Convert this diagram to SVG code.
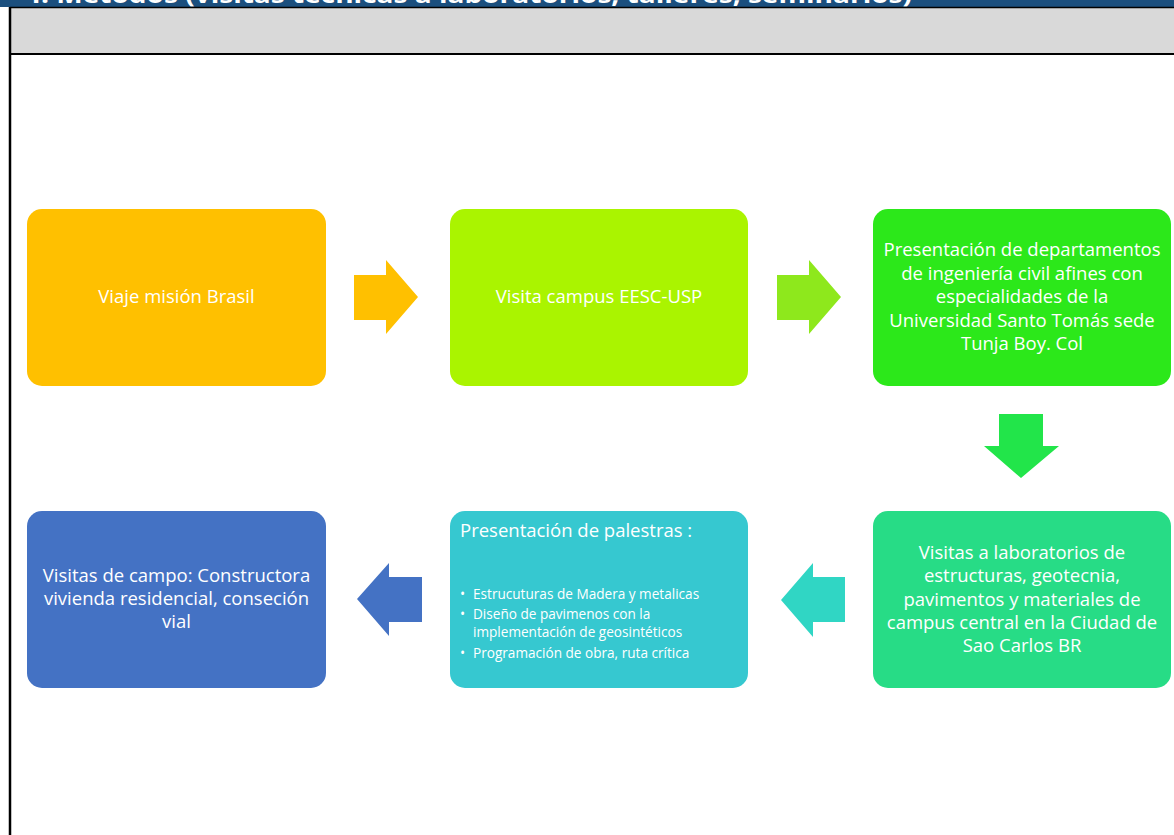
<svg xmlns="http://www.w3.org/2000/svg" width="1174" height="835" viewBox="0 0 1174 835">
<style>
.t{font-family:"Open Sans","Noto Sans",sans-serif;fill:#fff;font-size:18.5px}
.tc{text-anchor:middle}
.b{font-size:13.6px}
</style>
<defs><clipPath id="band"><rect x="0" y="0" width="1174" height="7"/></clipPath></defs>
<rect x="0" y="0" width="1174" height="835" fill="#fff"/>
<g id="header">
<rect x="0" y="0" width="1174" height="7" fill="#1B4F7E"/>
<text x="25" y="3" clip-path="url(#band)" font-family="'Open Sans',sans-serif" font-weight="bold" font-size="24" fill="#fff" textLength="887" lengthAdjust="spacingAndGlyphs">4. Métodos (visitas técnicas a laboratorios, talleres, seminarios)</text>
<rect x="10" y="8" width="1164" height="46" fill="#D9D9D9"/>
<line x1="10" y1="7.5" x2="1174" y2="7.5" stroke="#000" stroke-width="1.5"/>
<line x1="10" y1="54" x2="1174" y2="54" stroke="#000" stroke-width="2"/>
<line x1="10" y1="7" x2="10" y2="835" stroke="#000" stroke-width="2.5"/>
</g>
<g id="n1"><rect x="27" y="209" width="299" height="177" rx="15" fill="#FFC000"/>
<text class="t tc" x="176.5" y="303">Viaje misión Brasil</text></g>
<g id="n2"><rect x="450" y="209" width="298" height="177" rx="15" fill="#AAF400"/>
<text class="t tc" x="599" y="303">Visita campus EESC-USP</text></g>
<g id="n3"><rect x="873" y="209" width="298" height="177" rx="15" fill="#2CE81A"/>
<text class="t tc" x="1022" y="256">Presentación de departamentos</text>
<text class="t tc" x="1022" y="280">de ingeniería civil afines con</text>
<text class="t tc" x="1022" y="303">especialidades de la</text>
<text class="t tc" x="1022" y="327">Universidad Santo Tomás sede</text>
<text class="t tc" x="1022" y="350">Tunja Boy. Col</text></g>
<g id="n4"><rect x="873" y="511" width="298" height="177" rx="15" fill="#27DC86"/>
<text class="t tc" x="1022" y="559">Visitas a laboratorios de</text>
<text class="t tc" x="1022" y="582">estructuras, geotecnia,</text>
<text class="t tc" x="1022" y="606">pavimentos y materiales de</text>
<text class="t tc" x="1022" y="629">campus central en la Ciudad de</text>
<text class="t tc" x="1022" y="652">Sao Carlos BR</text></g>
<g id="n5"><rect x="450" y="511" width="298" height="177" rx="15" fill="#36C8D0"/>
<text class="t" x="460" y="537">Presentación de palestras :</text>
<g class="t b">
<text x="460" y="599">•</text><text x="473" y="599">Estrucuturas de Madera y metalicas</text>
<text x="460" y="619">•</text><text x="473" y="619">Diseño de pavimenos  con la</text>
<text x="473" y="637">implementación de geosintéticos</text>
<text x="460" y="658">•</text><text x="473" y="658">Programación de obra, ruta crítica</text>
</g></g>
<g id="n6"><rect x="27" y="511" width="299" height="177" rx="15" fill="#4472C4"/>
<text class="t tc" x="176.5" y="582">Visitas de campo: Constructora</text>
<text class="t tc" x="176.5" y="605">vivienda residencial, conseción</text>
<text class="t tc" x="176.5" y="628">vial</text></g>
<g id="connectors">
<polygon points="354,275 386,275 386,260 418,297 386,334 386,320 354,320" fill="#FFC000"/>
<polygon points="777,275 809,275 809,260 841,297 809,334 809,320 777,320" fill="#8EE81C"/>
<polygon points="999,414 1043,414 1043,446 1059,446 1021,478 984,446 999,446" fill="#22E54A"/>
<polygon points="845,577 813,577 813,563 781,600 813,637 813,622 845,622" fill="#30D6C4"/>
<polygon points="422,577 389,577 389,563 357,599 389,636 389,622 422,622" fill="#4472C4"/>
</g>
</svg>
